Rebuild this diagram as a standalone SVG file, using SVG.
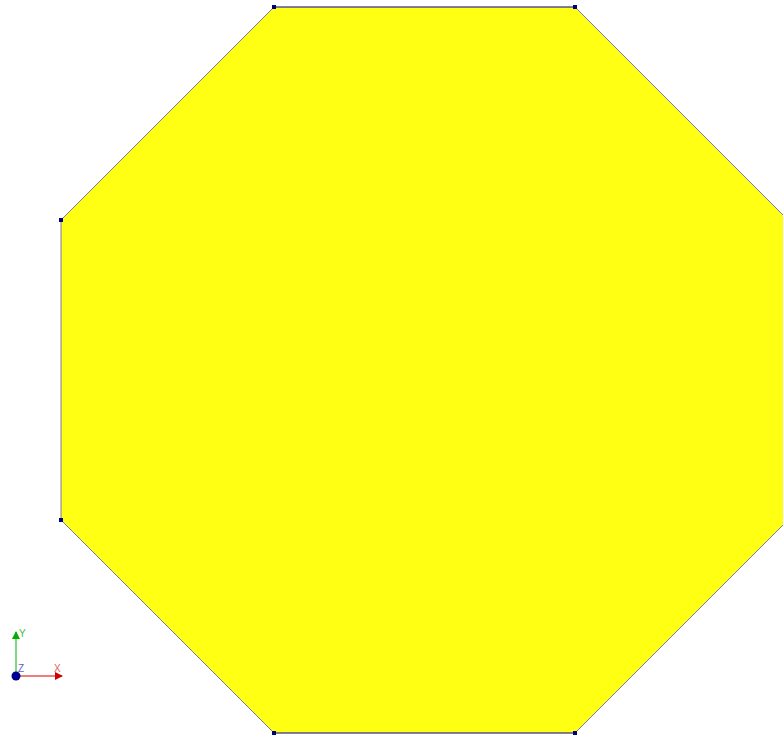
<svg xmlns="http://www.w3.org/2000/svg" width="783" height="737" viewBox="0 0 783 737">
<style>
.edge{stroke:#00008b;stroke-width:1.2;fill:none}
.diag{stroke:#7a7aa8;stroke-width:1;fill:none}
.v{fill:#00007f}
.lbl{font-family:"Liberation Sans",Arial,sans-serif;font-size:10px}
</style>
<defs>
<marker id="ag" markerWidth="8" markerHeight="8" refX="7" refY="4" orient="auto" markerUnits="userSpaceOnUse"><path d="M0,0 L8,4 L0,8 z" fill="#00b000"/></marker>
<marker id="ar" markerWidth="8" markerHeight="8" refX="7" refY="4" orient="auto" markerUnits="userSpaceOnUse"><path d="M0,0 L8,4 L0,8 z" fill="#d00000"/></marker>
</defs>
<rect width="783" height="737" fill="#ffffff"/>
<g id="octagon">
<polygon points="274,7 575,7 788,220 788,520 575,733 274,733 61,520 61,220" fill="#ffff14" stroke="none"/>
<line class="edge" x1="274" y1="7" x2="575" y2="7"/>
<line class="edge" x1="274" y1="733" x2="575" y2="733"/>
<line class="diag" x1="61" y1="220" x2="61" y2="520"/>
<line class="diag" x1="274" y1="7" x2="61" y2="220"/>
<line class="diag" x1="575" y1="7" x2="788" y2="220"/>
<line class="diag" x1="575" y1="733" x2="788" y2="520"/>
<line class="diag" x1="274" y1="733" x2="61" y2="520"/>
<rect class="v" x="272" y="5" width="4" height="4"/>
<rect class="v" x="573" y="5" width="4" height="4"/>
<rect class="v" x="59" y="218" width="4" height="4"/>
<rect class="v" x="59" y="518" width="4" height="4"/>
<rect class="v" x="272" y="731" width="4" height="4"/>
<rect class="v" x="573" y="731" width="4" height="4"/>
</g>
<g id="axes">
<line x1="16" y1="676" x2="16" y2="632" stroke="#00b000" stroke-width="1" marker-end="url(#ag)"/>
<line x1="16" y1="676" x2="62" y2="676" stroke="#d00000" stroke-width="1" marker-end="url(#ar)"/>
<circle cx="16" cy="676" r="4.5" fill="#000090"/>
<text class="lbl" x="19" y="637" fill="#40c040">Y</text>
<text class="lbl" x="54" y="672" fill="#e06060">X</text>
<text class="lbl" x="18" y="672" fill="#6060d0">Z</text>
</g>
</svg>
